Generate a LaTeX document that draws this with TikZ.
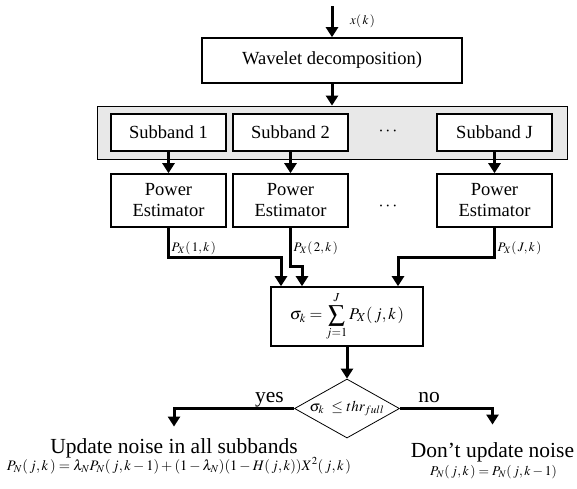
\documentclass[tikz,border=0pt]{standalone}
\usepackage{mathptmx}
\usepackage{fontspec}
\setmainfont{Liberation Serif}
\usetikzlibrary{arrows.meta,shapes.geometric}
\tikzset{
  blk/.style={draw,fill=white,line width=1.6pt,minimum width=115pt,align=center,
    font=\fontsize{18.5}{21}\selectfont},
  fl/.style={line width=3pt,-{Triangle[width=12pt,length=10pt]}},
  lbl/.style={font=\fontsize{13}{15}\selectfont,inner sep=1pt},
  big/.style={font=\fontsize{21.5}{24}\selectfont},
  eq/.style={font=\fontsize{14.5}{17}\selectfont},
  dia/.style={draw,diamond,line width=0.8pt,minimum width=105pt,minimum height=59pt,inner sep=0pt}
}
\begin{document}
\begin{tikzpicture}[x=1pt,y=-1pt]
  \useasboundingbox(0,0)rectangle(577,488);
  \node[blk,minimum width=260pt,minimum height=45pt](wav)at(332,60.5){Wavelet decomposition)};
  \coordinate(in)at(332,6);
  \draw[fl](in)--(wav);
  \node[lbl,anchor=west](xk)at(349,21){$x(\,k\,)$};
  \node[draw,fill=black!9,line width=0.8pt,minimum width=470pt,minimum height=53pt](band)at(332,132.5){};
  \draw[fl](wav)--(band);
  \foreach \n/\x in{1/168.5, 2/290.5, J/494.5}{%
    \node[blk,minimum height=37pt](sb\n)at(\x,132.5){Subband \n};
    \node[blk,minimum height=53pt](pe\n)at(\x,200.5){Power\\Estimator};
    \draw[fl](sb\n)--(pe\n);
    \node[lbl,anchor=west](px\n)at([shift={(2,20)}]pe\n.south){$P_X(\,\n,k\,)$};
  }
  \node[font=\fontsize{18}{20}\selectfont](dots1)at(388,132){$\cdots$};
  \node[font=\fontsize{18}{20}\selectfont](dots2)at(388,207){$\cdots$};
  \node[blk,minimum width=152pt,minimum height=59pt,inner sep=1pt,font=\fontsize{16.5}{18}\selectfont](sum)at(347,316.5)
    {$\displaystyle\sigma_k=\sum_{j=1}^{J}P_X(\,j,k\,)$};
  \foreach \n/\d/\s in{1/30/-66, 2/39/-45, J/30/51}{%
    \draw[fl](pe\n.south)--++(0,\d)-|([xshift=\s pt]sum.north);
  }
  \node[dia,label={[font=\fontsize{15}{17}\selectfont]center:$\sigma_k\ \le thr_{full}$}](dec)at(347,408.5){};
  \draw[fl](sum)--(dec);
  \node[big,anchor=base](upd)at(174,453){Update noise in all subbands};
  \node[big,anchor=base](dont)at(492.5,457){Don’t update noise};
  \draw[fl,shorten >=8pt](dec.west)-|(upd.north);
  \draw[fl,shorten >=14pt](dec.east)-|(dont.north);
  \node[big,anchor=base](yes)at(269.5,402){yes};
  \node[big,anchor=base](no)at(429,402){no};
  \node[eq,anchor=base](equ)at(179,470)
    {$P_N(\,j,k\,)=\lambda_N P_N(\,j,k-1)+(1-\lambda_N)(1-H(\,j,k))X^2(\,j,k\,)$};
  \node[eq,anchor=base,font=\fontsize{13.5}{16}\selectfont](eqn)at(493.5,475){$P_N(\,j,k\,)=P_N(\,j,k-1)$};
\end{tikzpicture}
\end{document}
